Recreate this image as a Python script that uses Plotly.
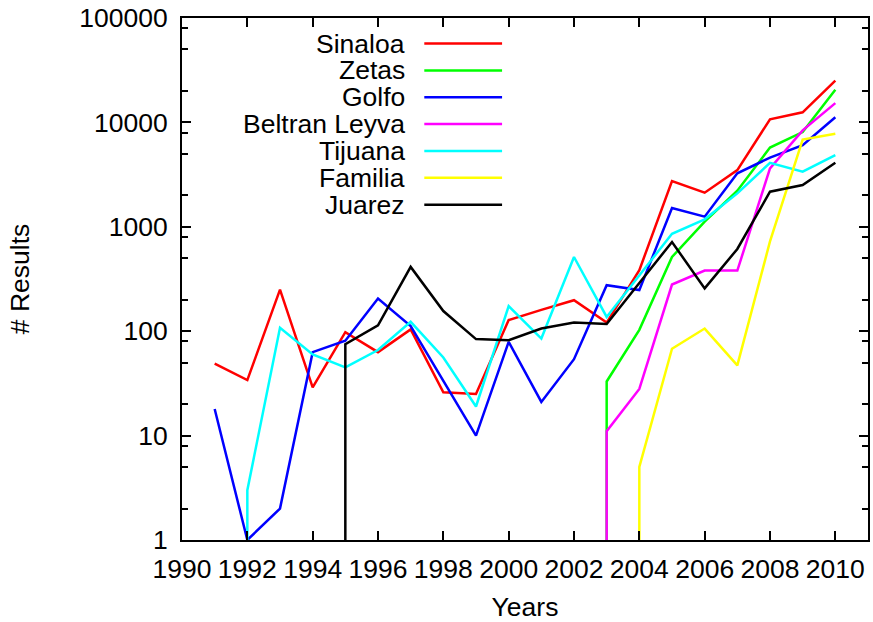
import plotly.graph_objects as go

# ---------------- data ----------------
names = ["Sinaloa", "Zetas", "Golfo", "Beltran Leyva", "Tijuana", "Familia", "Juarez"]
colors = ["#ff0000", "#00ff00", "#0000ff", "#ff00ff", "#00ffff", "#ffff00", "#000000"]

sinaloa_years = list(range(1991, 2011))
sinaloa = [49, 34, 250, 29, 98, 63, 104, 26, 25, 128, 160, 198, 121, 384, 2740, 2120, 3490, 10700, 12500, 25100]

zetas_years = [2003, 2003, 2004, 2005, 2006, 2007, 2008, 2009, 2010]
zetas = [1, 33, 103, 514, 1120, 2220, 5740, 8090, 20500]

golfo_years = list(range(1991, 2011))
golfo = [18, 1, 2, 63, 81, 206, 112, 34, 10, 79, 21, 54, 276, 248, 1510, 1250, 3250, 4600, 6040, 11200]

beltran_years = [2003, 2003, 2004, 2005, 2006, 2007, 2008, 2009, 2010]
beltran = [1, 11, 28, 280, 381, 381, 3620, 8390, 15300]

tijuana_years = [1992] + list(range(1992, 2011))
tijuana = [1, 3, 108, 60, 45, 66, 123, 56, 19, 174, 85, 514, 137, 340, 858, 1180, 2090, 4100, 3370, 4850]

familia_years = [2004, 2004, 2005, 2006, 2007, 2008, 2009, 2010]
familia = [1, 5, 68, 106, 47, 724, 6840, 7800]

juarez_years = [1995] + list(range(1995, 2011))
juarez = [1, 75, 114, 413, 156, 84, 82, 106, 121, 117, 290, 715, 257, 613, 2170, 2510, 4100]

x_ticks = list(range(1990, 2011, 2))
y_ticks = [1, 10, 100, 1000, 10000, 100000]
y_minor = [m * d for d in [1, 10, 100, 1000, 10000] for m in (2, 5, 8)]

series_x = [sinaloa_years, zetas_years, golfo_years, beltran_years, tijuana_years, familia_years, juarez_years]
series_y = [sinaloa, zetas, golfo, beltran, tijuana, familia, juarez]

# ---------------- layout geometry ----------------
W, H = 873, 622
PL, PR, PT, PB = 182, 870, 17, 542          # plot area in window pixels
L, T, R, B = PL, PT, W - PR, H - PB
pw, ph = W - L - R, H - T - B

def px_x(x):
    return (x - PL) / pw

def px_y(y):
    return (PB - y) / ph

FONT = "Liberation Sans, Arial, Helvetica, sans-serif"
FS = 26.5

fig = go.Figure()
for n, c, xs, ys in zip(names, colors, series_x, series_y):
    fig.add_trace(go.Scatter(x=xs, y=ys, mode="lines", name=n,
                             line=dict(color=c, width=2.5), showlegend=False))

# manual legend: text right-aligned, line sample on the right (gnuplot style)
shapes = []
annotations = []
row0, step = 42.7, 27.0
for i, (n, c) in enumerate(zip(names, colors)):
    yy = px_y(row0 + i * step)
    annotations.append(dict(x=px_x(408), y=yy, xref="paper", yref="paper",
                            text=n, showarrow=False, xanchor="right", yanchor="middle",
                            font=dict(family=FONT, size=FS, color="black")))
    shapes.append(dict(type="line", xref="paper", yref="paper",
                       x0=px_x(425), x1=px_x(503), y0=yy, y1=yy,
                       line=dict(color=c, width=2.5)))

fig.update_layout(
    width=W, height=H,
    margin=dict(l=L, r=R, t=T, b=B, pad=0),
    paper_bgcolor="white", plot_bgcolor="white",
    font=dict(family=FONT, size=FS, color="black"),
    shapes=shapes, annotations=annotations,
    showlegend=False,
)
fig.update_xaxes(
    range=[1990, 2011], tickvals=x_ticks, ticktext=[str(v) for v in x_ticks],
    ticks="inside", ticklen=9, tickwidth=2, tickcolor="black",
    showline=True, linewidth=2, linecolor="black", mirror="allticks",
    showgrid=False, zeroline=False,
    tickfont=dict(family=FONT, size=FS), ticklabelstandoff=4,
    ticklabeloverflow="allow",
    title=dict(text="Years", font=dict(family=FONT, size=FS), standoff=17),
)
fig.update_yaxes(
    type="log", range=[0, 5], tickvals=y_ticks, ticktext=[str(v) for v in y_ticks],
    ticks="inside", ticklen=9, tickwidth=2, tickcolor="black",
    minor=dict(tickvals=y_minor, ticks="inside", ticklen=6, tickwidth=2, tickcolor="black", showgrid=False),
    showline=True, linewidth=2, linecolor="black", mirror="allticks",
    showgrid=False, zeroline=False,
    tickfont=dict(family=FONT, size=FS), ticklabelstandoff=7,
    ticklabeloverflow="allow",
    title=dict(text="# Results", font=dict(family=FONT, size=FS), standoff=42),
)

fig.write_html("out.html", config={"displayModeBar": False},
               post_script="document.body.style.margin='0px';")
